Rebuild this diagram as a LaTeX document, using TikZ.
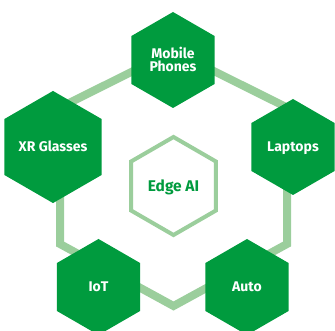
\documentclass[tikz,border=0pt]{standalone}
\usepackage{fontspec}
\setmainfont{Fira Sans}
\usetikzlibrary{shapes.geometric}
\definecolor{hexgreen}{RGB}{0,155,62}
\definecolor{ringgreen}{RGB}{155,206,156}
\begin{document}
\begin{tikzpicture}[x=1pt, y=-1pt,
	hexnode/.style={regular polygon, regular polygon sides=6, shape border rotate=30, fill=hexgreen, minimum size=96pt, inner sep=0pt, text=white, font=\fontsize{14}{13}\selectfont\bfseries, align=center, text height=10pt, text depth=0pt},
	hubnode/.style={regular polygon, regular polygon sides=6, shape border rotate=30, draw=ringgreen, line width=4pt, fill=white, minimum size=98pt, inner sep=0pt, text=hexgreen, font=\fontsize{15.5}{18}\selectfont\bfseries, text height=10.7pt, text depth=0pt},
	ring/.style={draw=ringgreen, line width=8pt, line join=miter}]
	\useasboundingbox (0,0) rectangle (335,331);

	\coordinate (rtop) at (173.5,51);
	\coordinate (rur) at (287,107.5);
	\coordinate (rlr) at (287,244);
	\coordinate (rbot) at (173.5,306);
	\coordinate (rll) at (60,244);
	\coordinate (rul) at (60,107.5);
	\draw[ring] (rtop) -- (rur) -- (rlr) -- (rbot) -- (rll) -- (rul) -- cycle;

	\node[hubnode] (edge) at (173.5,186) {Edge AI};

	\node[hexnode, text height=23pt] (mobile) at (173,60) {Mobile\\Phones};
	\node[hexnode] (laptops) at (293,147) {Laptops};
	\node[hexnode] (xr) at (53,147) {XR Glasses};
	\node[hexnode] (iot) at (98.5,287) {IoT};
	\node[hexnode] (auto) at (247,287) {Auto};
\end{tikzpicture}
\end{document}
